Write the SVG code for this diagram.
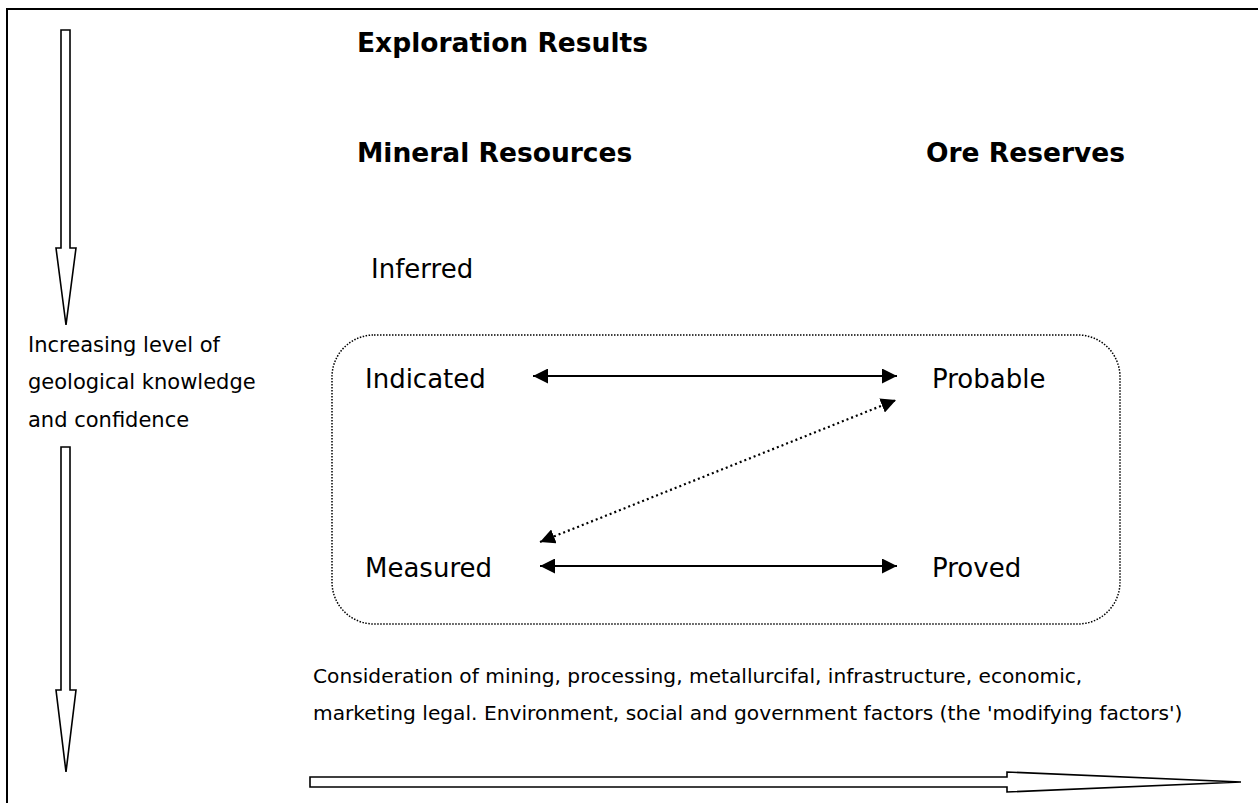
<svg xmlns="http://www.w3.org/2000/svg" width="1258" height="803" viewBox="0 0 1258 803">
<style>
  .big { font-family: "DejaVu Sans", Verdana, sans-serif; font-size: 26.5px; font-weight: bold; fill: #000; }
  .node { font-family: "DejaVu Sans", Verdana, sans-serif; font-size: 26px; fill: #000; }
  .small { font-family: "DejaVu Sans", Verdana, sans-serif; font-size: 21px; fill: #000; }
  .foot { font-family: "DejaVu Sans", Verdana, sans-serif; font-size: 20.2px; fill: #000; }
  .hollow { fill: #fff; stroke: #000; stroke-width: 1.6; stroke-linejoin: miter; }
  .conn { stroke: #000; stroke-width: 2.2; fill: none; }
  .dot { stroke: #000; stroke-width: 2.2; fill: none; stroke-dasharray: 2 3; }
</style>
<defs>
  <marker id="ah" viewBox="0 0 10 10" refX="10" refY="5" markerWidth="15" markerHeight="15" markerUnits="userSpaceOnUse" orient="auto-start-reverse">
    <path d="M0,0 L10,5 L0,10 Z" fill="#000"/>
  </marker>
</defs>
<rect width="1258" height="803" fill="#fff"/>
<path d="M7,803 V9 H1258" fill="none" stroke="#000" stroke-width="2"/>

<g id="arrow-confidence-top">
  <path class="hollow" d="M61,30 H70 V248 H76 L66,325 L56,248 H61 Z"/>
</g>
<g id="arrow-confidence-bottom">
  <path class="hollow" d="M61,447 H70 V690 H76 L66,772 L56,690 H61 Z"/>
</g>
<g id="arrow-modifying">
  <path class="hollow" d="M310,777 H1007 V772 L1241,782 L1007,792 V787 H310 Z"/>
</g>

<g id="label-confidence">
  <text class="small" x="28" y="352">Increasing level of</text>
  <text class="small" x="28" y="389">geological knowledge</text>
  <text class="small" x="28" y="427">and confidence</text>
</g>

<g id="exploration-results"><text class="big" x="357" y="52">Exploration Results</text></g>
<g id="mineral-resources"><text class="big" x="357" y="162">Mineral Resources</text></g>
<g id="ore-reserves"><text class="big" x="926" y="162">Ore Reserves</text></g>
<g id="inferred"><text class="node" x="371" y="278">Inferred</text></g>

<g id="group-box">
  <rect x="332" y="335" width="788" height="289" rx="42" ry="42" fill="none" stroke="#000" stroke-width="1.5" stroke-dasharray="1.5 1.5"/>
</g>

<g id="indicated"><text class="node" x="365" y="388">Indicated</text></g>
<g id="probable"><text class="node" x="932" y="388">Probable</text></g>
<g id="measured"><text class="node" x="365" y="577">Measured</text></g>
<g id="proved"><text class="node" x="932" y="577">Proved</text></g>

<g id="connectors">
  <line class="conn" x1="533" y1="376" x2="897" y2="376" marker-start="url(#ah)" marker-end="url(#ah)"/>
  <line class="conn" x1="540" y1="566" x2="897" y2="566" marker-start="url(#ah)" marker-end="url(#ah)"/>
  <line class="dot" x1="540" y1="542" x2="896" y2="400" marker-start="url(#ah)" marker-end="url(#ah)"/>
</g>

<g id="modifying-factors">
  <text class="foot" x="313" y="683">Consideration of mining, processing, metallurcifal, infrastructure, economic,</text>
  <text class="foot" x="313" y="720">marketing legal. Environment, social and government factors (the 'modifying factors')</text>
</g>
</svg>
